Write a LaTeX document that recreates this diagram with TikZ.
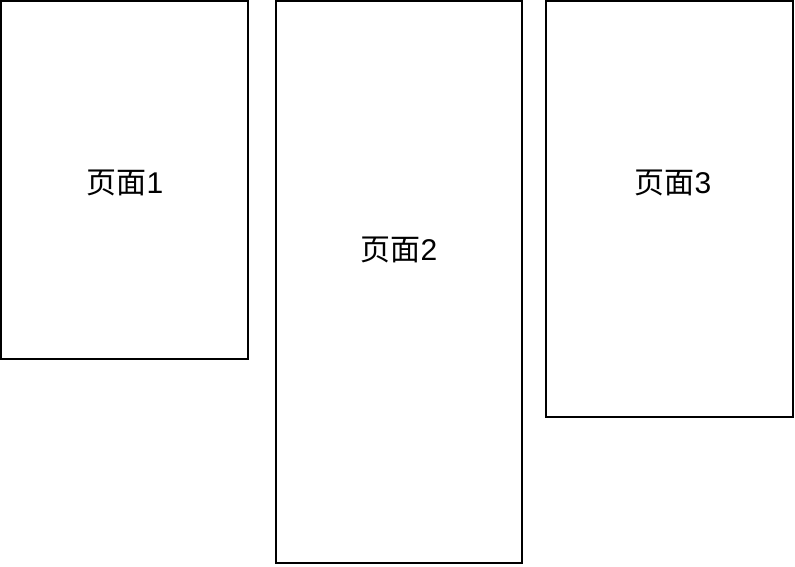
\documentclass[tikz,border=0pt]{standalone}
\usepackage{fontspec}
\setmainfont{Liberation Sans}
\newfontfamily\cjk{Noto Sans CJK SC}

\tikzset{
    page/.style={draw, line width=1.8pt, fill=white},
    pagename/.style={font=\fontsize{30}{34}\selectfont, inner sep=0pt},
}
\newcommand{\ym}{{\cjk 页面}}

\begin{document}
\begin{tikzpicture}[x=1pt, y=-1pt]
        \useasboundingbox (0,0) rectangle (795,566);
        \draw[page] (1, 1)   rectangle (248, 359);
        \draw[page] (276, 1) rectangle (522, 563);
        \draw[page] (546, 1) rectangle (793, 417);
        \node[pagename] (p1) at (125, 183) {\ym 1};
        \node[pagename] (p2) at (399, 250) {\ym 2};
        \node[pagename] (p3) at (673, 183) {\ym 3};
    \end{tikzpicture}
\end{document}
